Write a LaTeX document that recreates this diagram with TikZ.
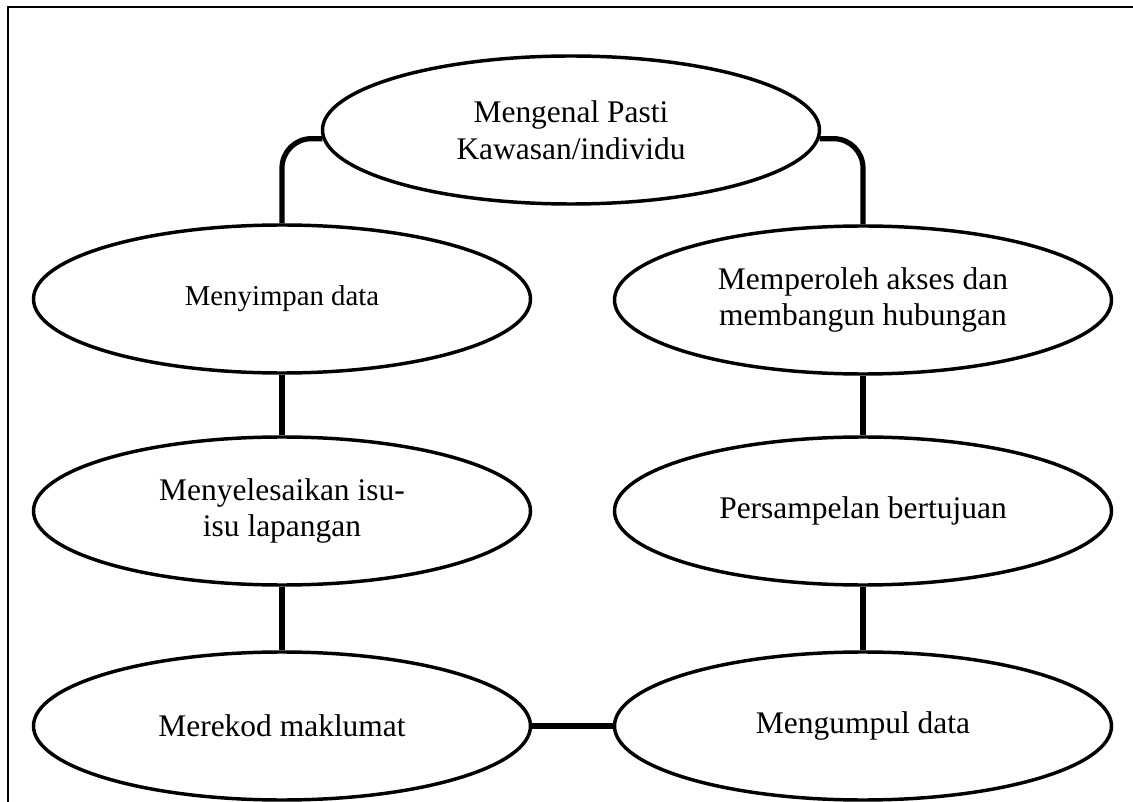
\documentclass[tikz,border=0pt]{standalone}
\usepackage{fontspec}
\setmainfont{Liberation Serif}
\usetikzlibrary{shapes.geometric}
\begin{document}
\begin{tikzpicture}[x=0.75pt,y=-0.75pt,
  bubble/.style={ellipse, draw, line width=2.6pt, minimum width=372.75pt,
    minimum height=111pt, inner sep=0pt, align=center,
    font=\fontsize{23.6pt}{27.5pt}\selectfont},
  link/.style={line width=3.9pt},
  frameline/.style={line width=1.2pt}]
\useasboundingbox (0,0) rectangle (1133,802);
% outer frame, only its top and left edges fall on the page
\begin{scope}
  \clip (0,0) rectangle (1133,802);
  \draw[frameline] (8,7) rectangle (1150,820);
\end{scope}

% stages
\node[bubble] (top) at (571,130) {Mengenal Pasti\\Kawasan/individu};
\node[bubble, font=\fontsize{21.6pt}{25pt}\selectfont] (simpan) at (282,299) {Menyimpan data};
\node[bubble] (akses) at (863,300) {Memperoleh akses dan\\membangun hubungan};
\node[bubble] (isu) at (282,511) {Menyelesaikan isu-\\isu lapangan};
\node[bubble] (sampel) at (863,511) {Persampelan bertujuan};
\node[bubble] (rekod) at (282,726) {Merekod maklumat};
\node[bubble] (kumpul) at (863,726) {Mengumpul data};

% connectors
\draw[link, rounded corners=22pt] (top.182) -| (simpan.north);
\draw[link, rounded corners=22pt] (top.358) -| (akses.north);
\draw[link] (simpan.south) -- (isu.north);
\draw[link] (isu.south) -- (rekod.north);
\draw[link] (akses.south) -- (sampel.north);
\draw[link] (sampel.south) -- (kumpul.north);
\draw[link] (rekod.east) -- (kumpul.west);
\end{tikzpicture}
\end{document}
